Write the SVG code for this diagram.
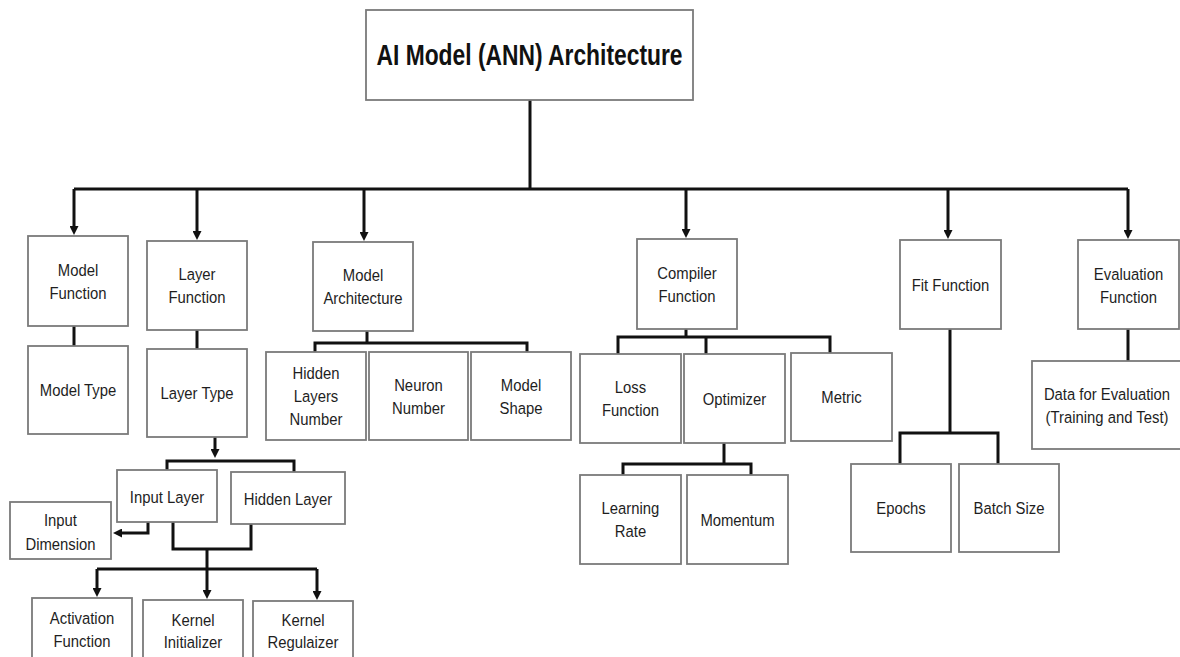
<svg xmlns="http://www.w3.org/2000/svg" width="1180" height="657" viewBox="0 0 1180 657">
<style>
.box{fill:#fff;stroke:#7a7a7a;stroke-width:1.8}
.t{font-family:"Liberation Sans",Arial,sans-serif;font-size:16.5px;fill:#1e1e1e;text-anchor:middle;transform-box:fill-box;transform-origin:center;transform:scaleX(0.9)}
.title{font-family:"Liberation Sans",Arial,sans-serif;font-size:30px;font-weight:bold;fill:#111;text-anchor:middle}
.c{fill:none;stroke:#111;stroke-width:3;stroke-linejoin:miter}
</style>
<defs>
<marker id="arr" viewBox="0 0 10 10" refX="0" refY="5" markerWidth="10" markerHeight="9" markerUnits="userSpaceOnUse" orient="auto">
<path d="M0,0 L10,5 L0,10 z" fill="#111"/>
</marker>
</defs>
<rect width="1180" height="657" fill="#fff"/>

<g id="connectors">
<path class="c" d="M530,100 V189"/>
<path class="c" d="M74,189 H1128"/>
<path class="c" d="M74,189 V226" marker-end="url(#arr)"/>
<path class="c" d="M197,189 V231" marker-end="url(#arr)"/>
<path class="c" d="M364,189 V232" marker-end="url(#arr)"/>
<path class="c" d="M686,189 V229" marker-end="url(#arr)"/>
<path class="c" d="M948,189 V230" marker-end="url(#arr)"/>
<path class="c" d="M1128,189 V230" marker-end="url(#arr)"/>
<path class="c" d="M74,326 V346"/>
<path class="c" d="M197,330 V349"/>
<path class="c" d="M367,331 V343"/>
<path class="c" d="M315,352 V343 H527 V352"/>
<path class="c" d="M686,329 V337"/>
<path class="c" d="M618,354 V337 H830 V353"/>
<path class="c" d="M706,337 V354"/>
<path class="c" d="M724,443 V464"/>
<path class="c" d="M623,475 V464 H751 V475"/>
<path class="c" d="M950,329 V433"/>
<path class="c" d="M900,464 V433 H998 V464"/>
<path class="c" d="M1128,329 V361"/>
<path class="c" d="M215,437 V449" marker-end="url(#arr)"/>
<path class="c" d="M167,471 V461 H294 V472"/>
<path class="c" d="M148,522 V533 H122" marker-end="url(#arr)"/>
<path class="c" d="M173,522 V549 H251 V524"/>
<path class="c" d="M207,549 V569"/>
<path class="c" d="M97,569 H317"/>
<path class="c" d="M97,569 V588" marker-end="url(#arr)"/>
<path class="c" d="M207,569 V590" marker-end="url(#arr)"/>
<path class="c" d="M317,569 V591" marker-end="url(#arr)"/>
</g>

<g id="title">
<rect class="box" x="366" y="10" width="327" height="90"/>
<text class="title" x="529.5" y="65" textLength="306" lengthAdjust="spacingAndGlyphs">AI Model (ANN) Architecture</text>
</g>

<g id="model-function">
<rect class="box" x="28" y="236" width="100" height="90"/>
<text class="t" x="78"><tspan x="78" y="276">Model</tspan><tspan x="78" y="299">Function</tspan></text>
</g>
<g id="model-type">
<rect class="box" x="28" y="346" width="100" height="88"/>
<text class="t" x="78" y="396">Model Type</text>
</g>

<g id="layer-function">
<rect class="box" x="147" y="241" width="100" height="89"/>
<text class="t" x="197"><tspan x="197" y="280">Layer</tspan><tspan x="197" y="303">Function</tspan></text>
</g>
<g id="layer-type">
<rect class="box" x="147" y="349" width="100" height="88"/>
<text class="t" x="197" y="399">Layer Type</text>
</g>

<g id="model-architecture">
<rect class="box" x="313" y="242" width="100" height="89"/>
<text class="t" x="363"><tspan x="363" y="281">Model</tspan><tspan x="363" y="304">Architecture</tspan></text>
</g>
<g id="hidden-layers-number">
<rect class="box" x="266" y="352" width="100" height="88"/>
<text class="t" x="316"><tspan x="316" y="379">Hidden</tspan><tspan x="316" y="402">Layers</tspan><tspan x="316" y="425">Number</tspan></text>
</g>
<g id="neuron-number">
<rect class="box" x="369" y="352" width="99" height="88"/>
<text class="t" x="418.5"><tspan x="418.5" y="391.5">Neuron</tspan><tspan x="418.5" y="414.5">Number</tspan></text>
</g>
<g id="model-shape">
<rect class="box" x="471" y="352" width="100" height="88"/>
<text class="t" x="521"><tspan x="521" y="391.5">Model</tspan><tspan x="521" y="414.5">Shape</tspan></text>
</g>

<g id="compiler-function">
<rect class="box" x="637" y="239" width="100" height="90"/>
<text class="t" x="687"><tspan x="687" y="279">Compiler</tspan><tspan x="687" y="302">Function</tspan></text>
</g>
<g id="loss-function">
<rect class="box" x="580" y="354" width="101" height="89"/>
<text class="t" x="630.5"><tspan x="630.5" y="393.5">Loss</tspan><tspan x="630.5" y="416.5">Function</tspan></text>
</g>
<g id="optimizer">
<rect class="box" x="684" y="354" width="101" height="89"/>
<text class="t" x="734.5" y="405">Optimizer</text>
</g>
<g id="metric">
<rect class="box" x="791" y="353" width="101" height="88"/>
<text class="t" x="841.5" y="403.5">Metric</text>
</g>
<g id="learning-rate">
<rect class="box" x="580" y="475" width="101" height="89"/>
<text class="t" x="630.5"><tspan x="630.5" y="514.5">Learning</tspan><tspan x="630.5" y="537.5">Rate</tspan></text>
</g>
<g id="momentum">
<rect class="box" x="687" y="475" width="101" height="89"/>
<text class="t" x="737.5" y="526">Momentum</text>
</g>

<g id="fit-function">
<rect class="box" x="900" y="240" width="101" height="89"/>
<text class="t" x="950.5" y="291">Fit Function</text>
</g>
<g id="epochs">
<rect class="box" x="851" y="464" width="100" height="88"/>
<text class="t" x="901" y="514.5">Epochs</text>
</g>
<g id="batch-size">
<rect class="box" x="959" y="464" width="100" height="88"/>
<text class="t" x="1009" y="514.5">Batch Size</text>
</g>

<g id="evaluation-function">
<rect class="box" x="1078" y="240" width="101" height="89"/>
<text class="t" x="1128.5"><tspan x="1128.5" y="280">Evaluation</tspan><tspan x="1128.5" y="303">Function</tspan></text>
</g>
<g id="data-for-evaluation">
<rect class="box" x="1032" y="361" width="150" height="88"/>
<text class="t" x="1107"><tspan x="1107" y="400">Data for Evaluation</tspan><tspan x="1107" y="423">(Training and Test)</tspan></text>
</g>

<g id="input-layer">
<rect class="box" x="117" y="470" width="100" height="52"/>
<text class="t" x="167" y="503">Input Layer</text>
</g>
<g id="hidden-layer">
<rect class="box" x="231" y="472" width="114" height="52"/>
<text class="t" x="288" y="505">Hidden Layer</text>
</g>
<g id="input-dimension">
<rect class="box" x="10" y="502" width="101" height="57"/>
<text class="t" x="60.5"><tspan x="60.5" y="526">Input</tspan><tspan x="60.5" y="550">Dimension</tspan></text>
</g>
<g id="activation-function">
<rect class="box" x="32" y="598" width="100" height="70"/>
<text class="t" x="82"><tspan x="82" y="624">Activation</tspan><tspan x="82" y="647">Function</tspan></text>
</g>
<g id="kernel-initializer">
<rect class="box" x="143" y="600" width="100" height="70"/>
<text class="t" x="193"><tspan x="193" y="626">Kernel</tspan><tspan x="193" y="648">Initializer</tspan></text>
</g>
<g id="kernel-regulaizer">
<rect class="box" x="253" y="601" width="100" height="70"/>
<text class="t" x="303"><tspan x="303" y="626">Kernel</tspan><tspan x="303" y="648">Regulaizer</tspan></text>
</g>
</svg>
